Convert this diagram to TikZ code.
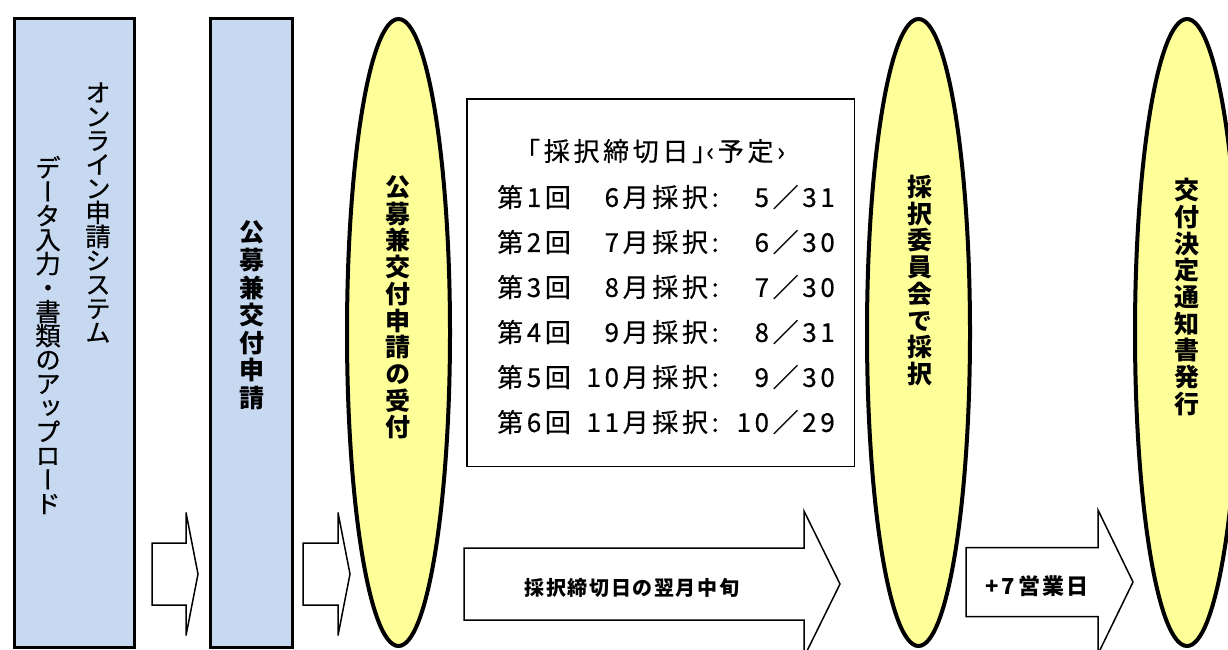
\documentclass[tikz,border=0pt]{standalone}
\usepackage{fontspec}
\setmainfont{Noto Sans CJK JP}
\newfontfamily\tatefont[RawFeature=+vert]{Noto Sans CJK JP}
\newfontfamily\tatemid[RawFeature=+vert, FakeBold=0.6]{Noto Sans CJK JP}
\newfontfamily\hyofont[LetterSpace=14, FakeBold=0.4]{Noto Sans CJK JP}
\newfontfamily\yajifont[LetterSpace=8]{Noto Sans CJK JP}
\usetikzlibrary{shapes}
\definecolor{boxblue}{HTML}{C6D9F1}
\definecolor{ovalyellow}{HTML}{FFFF99}
\tikzstyle{kibox}=[rectangle, draw, line width=3.3pt, fill=boxblue, inner sep=0pt]
\tikzstyle{oval}=[ellipse, draw, line width=4pt, fill=ovalyellow, inner sep=0pt]
\tikzstyle{tate}=[inner sep=0pt]
\tikzstyle{hyo}=[inner sep=0pt, font=\hyofont\fontsize{26}{30}\selectfont]
\tikzstyle{hollow}=[draw, line width=1.5pt, fill=white, line join=miter]

% stack the characters one below the other (vertical writing)
\makeatletter
\newcommand\tatestack[2]{\vbox{\baselineskip=#1\lineskiplimit=-100pt\lineskip=0pt
  \@tfor\tatechar:=#2\do{\hbox to 1.2em{\hss\tatechar\hss}}}}
\makeatother

\begin{document}
\begin{tikzpicture}[x=1pt, y=-1pt]
    \clip (0,0) rectangle (1228,649);

    % blue boxes
    \node[kibox, minimum width=120pt, minimum height=629pt] (sys) at (74.5,333) {};
    \node[kibox, minimum width=82pt, minimum height=629pt] (kobo) at (251.5,333) {};
    \node[tate, font=\tatemid\fontsize{25.5}{24}\selectfont] (systxt1) at (98,212.5)
      {\tatestack{24pt}{オンライン申請システム}};
    \node[tate, font=\tatemid\fontsize{25.5}{24}\selectfont] (systxt2) at (48,335)
      {\tatestack{24pt}{データ入力・書類のアップロード}};
    \node[tate, font=\tatefont\bfseries\fontsize{25}{28}\selectfont] (kobotxt) at (252,315.5)
      {\tatestack{27.6pt}{公募兼交付申請}};

    % yellow ovals
    \node[oval, minimum width=103pt, minimum height=627pt] (uketsuke) at (398.5,332.5) {};
    \node[oval, minimum width=103pt, minimum height=627pt] (saitaku) at (918.5,332.5) {};
    \node[oval, minimum width=104pt, minimum height=627pt] (tsuchi) at (1187,332.5) {};
    \node[tate, font=\tatefont\bfseries\fontsize{25}{27}\selectfont] (uketsuketxt) at (398,307.5)
      {\tatestack{26.7pt}{公募兼交付申請の受付}};
    \node[tate, font=\tatefont\bfseries\fontsize{25}{27}\selectfont] (saitakutxt) at (920,280.5)
      {\tatestack{26.7pt}{採択委員会で採択}};
    \node[tate, font=\tatefont\bfseries\fontsize{25}{27}\selectfont] (tsuchitxt) at (1187,297)
      {\tatestack{26.7pt}{交付決定通知書発行}};

    % deadline table
    \node[draw, line width=1.5pt, minimum width=387.5pt, minimum height=367.5pt, inner sep=0pt]
      (kigen) at (660.5,282.5) {};
    \node[hyo, anchor=west] (midashi) at (514,151) {「採択締切日」\kern-.45em‹予定›};
    \foreach \n/\m/\d [count=\i] in {1/6/5／31, 2/7/6／30, 3/8/7／30,
                                     4/9/8／31, 5/10/9／30, 6/11/10／29}{
      \node[hyo, anchor=west] (kai\i) at (497,{197+45*(\i-1)}) {第{\n}回};
      \node[hyo, anchor=east] (tsuki\i) at (719,{197+45*(\i-1)}) {{\m}月採択:};
      \node[hyo, anchor=east] (hi\i) at (835,{197+45*(\i-1)}) {\d};
    }

    % hollow arrows, using a loop
    \foreach \xa/\xb/\xc/\ym/\hs/\hh in {152/186/198/574/31/61.5, 303/338/350/574/31/61.5,
                                         464/804/840/584/36/73, 966/1098/1133/582/34.5/72}
    \draw[hollow] (\xa,\ym-\hs) -- (\xb,\ym-\hs) -- (\xb,\ym-\hh) -- (\xc,\ym)
      -- (\xb,\ym+\hh) -- (\xb,\ym+\hs) -- (\xa,\ym+\hs) -- cycle;

    \node[inner sep=0pt, font=\yajifont\bfseries\fontsize{20}{24}\selectfont] (yokugetsu)
      at (632,588) {採択締切日の翌月中旬};
    \node[inner sep=0pt, font=\yajifont\bfseries\fontsize{22}{24}\selectfont] (eigyobi)
      at (1037,586) {+7\kern4pt 営業日};
\end{tikzpicture}
\end{document}
